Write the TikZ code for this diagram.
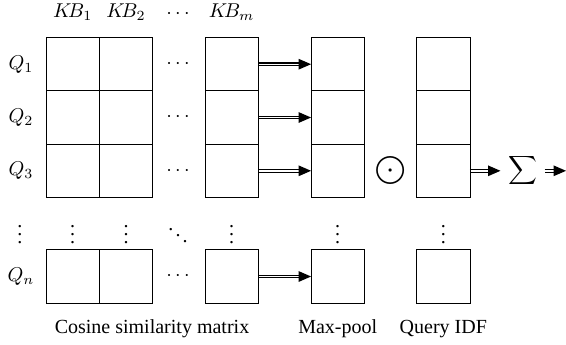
\documentclass[tikz,border=0pt]{standalone}
\usepackage{fontspec}
\setmainfont{Liberation Serif}
\newcommand\dblarr[2]{%
  \draw[line width=1.8pt,shorten >=5.5pt] (#1) -- (#2);
  \draw[white,line width=0.7pt,shorten >=5.3pt,shorten <=0.3pt] (#1) -- (#2);
  \fill (#2) -- ++(-6.2pt,2.7pt) -- ++(0pt,-5.4pt) -- cycle;}
\begin{document}
\begin{tikzpicture}[x=0.5pt,y=-0.5pt,
  cell/.style={draw,minimum size=26.65pt,inner sep=0pt,outer sep=0pt},
  lbl/.style={inner sep=0pt,outer sep=0pt},
  font=\normalsize]
\useasboundingbox (0,0) rectangle (566,344);
% cells
\foreach \c/\x in {a/72.7,b/126,m/231.7,p/337.7,f/443.3}{
  \foreach \r/\y in {1/64.2,2/117.5,3/170.8,n/276.5}{
    \node[cell] (\c-\r) at (\x,\y) {};
  }
}
% headers
\node[lbl,anchor=base] (kb1) at (72.7,17.3) {$K\!B_1$};
\node[lbl,anchor=base] (kb2) at (126,17.3) {$K\!B_2$};
\node[lbl,anchor=base] (kbd) at (178,18) {$\cdots$};
\node[lbl,anchor=base] (kbm) at (231.7,17.3) {$K\!B_m$};
% row labels
\foreach \r/\y in {1/64.2,2/117.5,3/170.8,n/276.5}{
  \node[lbl] (q-\r) at (21,\y) {$Q_\r$};
  \node[lbl] (cd-\r) at (178,\y) {$\cdots$};
}
% vertical dots
\foreach \i/\x in {0/20,1/72.7,2/126,3/231.7,4/337.7,5/443.3}{
  \node[lbl] (vd-\i) at (\x,229) {$\vdots$};
}
\node[lbl] (dd) at (178,229) {$\ddots$};
% operators
\node[lbl] (odot) at (390.3,170.8) {$\displaystyle\bigodot$};
\node[inner sep=3.6pt] (sum) at (522.5,170.8) {$\displaystyle\sum$};
\coordinate (out) at (566,170.8);
% arrows
\foreach \r in {1,2,3,n}{
  \dblarr{m-\r.east}{p-\r.west}
}
\dblarr{f-3.east}{sum.west}
\dblarr{sum.east}{out}
% bottom labels
\node[lbl,anchor=base] (l1) at (152,333) {Cosine similarity matrix};
\node[lbl,anchor=base] (l2) at (337.7,333) {Max-pool};
\node[lbl,anchor=base] (l3) at (443.3,333) {Query IDF};
\end{tikzpicture}
\end{document}
